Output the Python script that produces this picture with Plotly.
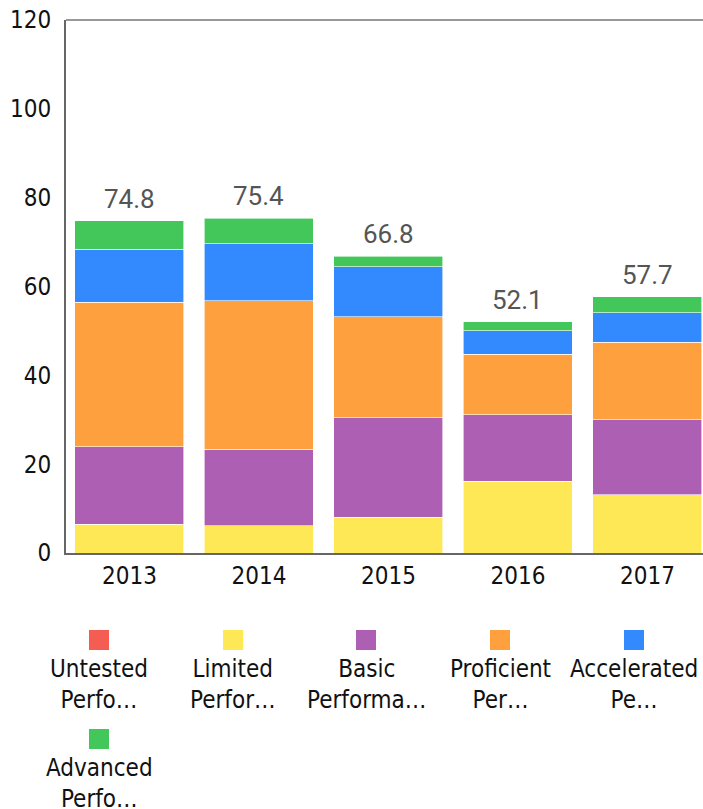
import plotly.graph_objects as go

years = ["2013", "2014", "2015", "2016", "2017"]
series_names = ["Untested Performance", "Limited Performance", "Basic Performance",
                "Proficient Performance", "Accelerated Performance", "Advanced Performance"]
legend_labels = ["Untested<br>Perfo…", "Limited<br>Perfor…", "Basic<br>Performa…",
                 "Proficient<br>Per…", "Accelerated<br>Pe…", "Advanced<br>Perfo…"]
colors = ["#F65D52", "#FEE856", "#AD5FB4", "#FEA03D", "#338AFF", "#43C75A"]

untested = [0, 0, 0, 0, 0]
limited = [6.5, 6.1, 8.1, 16.2, 13.1]
basic = [17.4, 17.3, 22.3, 14.9, 16.9]
proficient = [32.6, 33.4, 22.8, 13.7, 17.5]
accelerated = [11.9, 12.8, 11.2, 5.2, 6.6]
advanced = [6.4, 5.8, 2.4, 2.1, 3.6]
totals = [74.8, 75.4, 66.8, 52.1, 57.7]
y_ticks = [0, 20, 40, 60, 80, 100, 120]

values = [untested, limited, basic, proficient, accelerated, advanced]

W, H = 703, 809
L, R, T, B = 66, 0, 20, 256
PW, PH = W - L - R, H - T - B

axis_font = dict(family="DejaVu Sans Condensed, DejaVu Sans, sans-serif", size=24, color="#111111")

fig = go.Figure()
for name, vals, col in zip(series_names, values, colors):
    fig.add_trace(go.Bar(x=years, y=vals, name=name,
                         marker=dict(color=col, line=dict(color="white", width=0.6)),
                         showlegend=False))

for i, tot in enumerate(totals):
    fig.add_annotation(x=i, y=tot, xref="x", yref="y", text=f"{tot}", showarrow=False,
                       yanchor="bottom", yshift=5,
                       font=dict(family="Roboto, sans-serif", size=26, color="#555555"))

def px2paper(px, py):
    return (px - L) / PW, (H - B - py) / PH

# custom legend (symbols above wrapped labels)
leg_pos = [(99, 640), (233, 640), (366, 640), (500, 640), (634, 640), (99, 739)]
for (cx, cy), lab, col in zip(leg_pos, legend_labels, colors):
    x0, y0 = px2paper(cx - 10, cy + 10)
    x1, y1 = px2paper(cx + 10, cy - 10)
    fig.add_shape(type="rect", xref="paper", yref="paper", x0=x0, y0=y0, x1=x1, y1=y1,
                  fillcolor=col, line=dict(width=0))
    tx, ty = px2paper(cx, cy + 13)
    fig.add_annotation(xref="paper", yref="paper", x=tx, y=ty, text=lab, showarrow=False,
                       xanchor="center", yanchor="top", align="center",
                       font=axis_font)

# top border line
fig.add_shape(type="line", xref="paper", yref="paper", x0=0, x1=1, y0=1, y1=1,
              line=dict(color="#999999", width=2))

fig.update_layout(
    width=W, height=H, barmode="stack", bargap=0.158,
    margin=dict(l=L, r=R, t=T, b=B),
    plot_bgcolor="white", paper_bgcolor="white",
    xaxis=dict(type="category", range=[-0.49, 4.429], showgrid=False, showline=True,
               linecolor="#666666", linewidth=2, tickfont=axis_font, ticks=""),
    yaxis=dict(range=[0, 120], tickvals=y_ticks, showgrid=False, showline=True, linecolor="#666666",
               linewidth=2, tickfont=axis_font, ticks="", ticklabelstandoff=8, zeroline=False),
)

fig.write_html("out.html", config={"displayModeBar": False},
               post_script="document.body.style.margin='0';document.body.style.overflow='hidden';")
